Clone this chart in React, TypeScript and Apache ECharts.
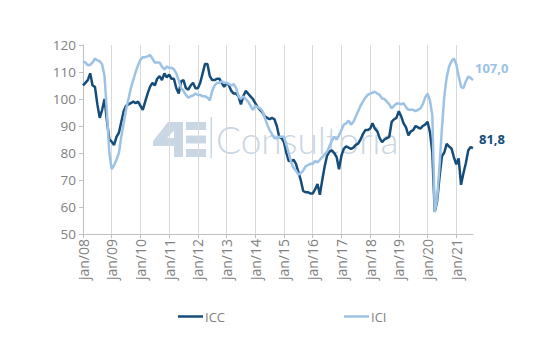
import React, { useEffect, useRef } from "react";
import * as echarts from "echarts";

const MONTHS = ["jan", "fev", "mar", "abr", "mai", "jun", "jul", "ago", "set", "out", "nov", "dez"];
const YEARS = ["08", "09", "10", "11", "12", "13", "14", "15", "16", "17", "18", "19", "20", "21"];

const ICC = [
  105, 106, 107, 109.5, 105, 104.5, 98, 93, 96, 100, 92, 85,
  84.2, 83, 86, 87.5, 91.5, 95.5, 97.5, 98, 98.5, 99, 98.5, 99,
  97.5, 96, 99, 102, 104.5, 106, 105, 107.5, 108.5, 107, 109.5, 108,
  109, 107.5, 107.5, 104, 102, 106.5, 107, 104, 103.5, 105, 106, 104,
  104, 106, 109.5, 113, 113, 108.5, 107, 107, 107.5, 107.5, 106, 104.5,
  106, 105, 103, 102, 102, 101, 98, 101, 103, 102, 101, 100,
  98.5, 97, 96, 95, 93.5, 93, 92.5, 93, 92.5, 90, 86, 85.5,
  84, 80, 77, 77, 77.5, 76, 73, 70, 66, 65.5, 65.5, 65,
  65, 66.5, 68.5, 64.5, 70, 75, 79, 80.5, 81, 80, 78.5, 74,
  79, 81.5, 82.5, 82, 81.5, 82, 83, 83.5, 85, 87, 88.5, 88.5,
  89, 91, 89, 88, 85.5, 84, 85, 85.5, 86, 91.5, 92.5, 93,
  95.5, 93.5, 91, 89.5, 86.5, 88, 88.5, 90, 89.5, 89, 90, 90.5,
  91.6, 87.8, 80.2, 58.2, 62.1, 71.1, 78.8, 80.2, 83.4, 82.4, 81.7, 78.5,
  75.8, 78.0, 68.2, 72.5, 76.2, 80.9, 82.2, 81.8,
];

const ICI = [
  113.8, 113.5, 112.5, 112.7, 113.5, 115, 114.3, 114, 112.8, 108.5, 95, 80,
  74, 75.5, 77.5, 80, 86, 91, 96, 100, 104, 107, 110, 112.5,
  114.5, 115.5, 115.5, 115.8, 116.3, 115, 113.5, 113.5, 113.5, 112, 111, 112,
  111.5, 111.5, 111, 109.5, 107, 104, 103, 101.5, 100.5, 101, 101.3, 102,
  101.5, 101.5, 101, 101, 100.5, 99.5, 103, 105, 106, 106, 106.5, 106,
  106, 105.5, 105, 105.5, 104, 101, 100, 101, 100, 99, 97.5, 96,
  97.5, 97, 96.5, 95.5, 93, 90.5, 88.5, 87, 85.5, 85.5, 86, 86,
  86, 83, 80, 76.5, 74.5, 73.5, 72, 72.5, 73.5, 75, 75.5, 76,
  76, 77, 76.5, 77.5, 78.5, 79.5, 80.5, 82.5, 84.5, 86, 85, 86.5,
  88.5, 90.5, 91, 92, 90.5, 91.5, 93.5, 95.5, 97.5, 99, 100.5, 101.5,
  102, 102.3, 102.7, 102, 101.5, 100.2, 100, 99, 98, 96.5, 97.5, 98.3,
  98.3, 98, 98.5, 97, 96, 96, 96, 95.5, 96, 96.5, 98, 100.5,
  102, 99.5, 94, 58.2, 63, 75, 89, 101, 108, 112, 114, 115,
  113, 108.5, 104.5, 104, 106.5, 108.3, 107.8, 107.0,
];

const Y_MIN = 50;
const Y_MAX = 120;
const Y_STEP = 10;

const DARK = "#154c7a";
const LIGHT = "#9cc2e5";
const GRAY_TEXT = "#808080";
const AXIS = "#bfbfbf";
const WM = "#c9d6e3";

export default function App() {
  const ref = useRef<HTMLDivElement>(null);

  useEffect(() => {
    if (!ref.current) return;
    const chart = echarts.init(ref.current, null, { renderer: "svg" });
    const categories: string[] = [];
    for (const y of YEARS) for (const m of MONTHS) categories.push(m + "/" + y);
    const cats = categories.slice(0, ICC.length);
    const yearStart = (i: number) => i % 12 === 0;
    const fmt = (p: any) => Number(p.value).toFixed(1).replace(".", ",");

    chart.setOption({
      animation: false,
      backgroundColor: "#ffffff",
      grid: { left: 83, right: 75, top: 45, bottom: 125, containLabel: false },
      legend: {
        data: ["ICC", "ICI"],
        left: 173,
        top: 305,
        icon: "rect",
        itemWidth: 25,
        itemHeight: 2.5,
        itemGap: 119,
        textStyle: { color: GRAY_TEXT, fontSize: 13, fontFamily: "Open Sans", padding: [0, 0, 0, -3] },
      },
      xAxis: {
        type: "category",
        data: cats,
        boundaryGap: false,
        axisLine: { show: true, lineStyle: { color: AXIS, width: 1 } },
        axisTick: { show: true, interval: yearStart, length: 4, lineStyle: { color: AXIS } },
        axisLabel: {
          interval: yearStart,
          rotate: 90,
          margin: 5,
          color: GRAY_TEXT,
          fontSize: 14,
          fontFamily: "Open Sans",
        },
        splitLine: { show: true, interval: yearStart, lineStyle: { color: "#d9d9d9", width: 1 } },
      },
      yAxis: {
        type: "value",
        min: Y_MIN,
        max: Y_MAX,
        interval: Y_STEP,
        axisLine: { show: true, lineStyle: { color: AXIS, width: 1 } },
        axisTick: { show: true, length: 4, lineStyle: { color: AXIS } },
        axisLabel: { color: GRAY_TEXT, fontSize: 13.5, margin: 7, fontFamily: "Open Sans" },
        splitLine: { show: false },
      },
      graphic: [
        {
          type: "group",
          silent: true,
          children: [
            {
              type: "polygon",
              shape: {
                points: [
                  [168, 122], [182, 122], [167, 138], [183, 138], [183, 146], [153, 146], [153, 141],
                ],
              },
              style: { fill: WM },
            },
            { type: "rect", shape: { x: 174, y: 122, width: 9, height: 35 }, style: { fill: WM } },
            { type: "rect", shape: { x: 186, y: 122, width: 20, height: 8 }, style: { fill: WM } },
            { type: "rect", shape: { x: 186, y: 135.5, width: 20, height: 8 }, style: { fill: WM } },
            { type: "rect", shape: { x: 186, y: 149, width: 20, height: 8 }, style: { fill: WM } },
            { type: "rect", shape: { x: 210.5, y: 117, width: 1.5, height: 41 }, style: { fill: WM } },
            {
              type: "text",
              x: 216,
              y: 139,
              style: {
                text: "Consultoria",
                fill: WM,
                font: "300 37px Lato",
                textVerticalAlign: "middle",
                verticalAlign: "middle",
              },
            },
          ],
        },
      ],
      series: [
        {
          name: "ICC",
          type: "line",
          data: ICC,
          symbol: "none",
          showSymbol: false,
          lineStyle: { color: DARK, width: 2.5 },
          itemStyle: { color: DARK },
          endLabel: {
            show: true,
            formatter: fmt,
            color: DARK,
            fontWeight: "bold",
            fontSize: 13,
            fontFamily: "Open Sans",
            distance: 6,
            offset: [0, -9],
          },
        },
        {
          name: "ICI",
          type: "line",
          data: ICI,
          symbol: "none",
          showSymbol: false,
          lineStyle: { color: LIGHT, width: 2.5 },
          itemStyle: { color: LIGHT },
          endLabel: {
            show: true,
            formatter: fmt,
            color: LIGHT,
            fontWeight: "bold",
            fontSize: 13,
            fontFamily: "Open Sans",
            distance: 2,
            offset: [0, -12],
          },
        },
      ],
    });
    return () => chart.dispose();
  }, []);

  return (
    <div
      ref={ref}
      style={{ position: "fixed", left: 0, top: 0, width: 548, height: 359, background: "#fff" }}
    />
  );
}
